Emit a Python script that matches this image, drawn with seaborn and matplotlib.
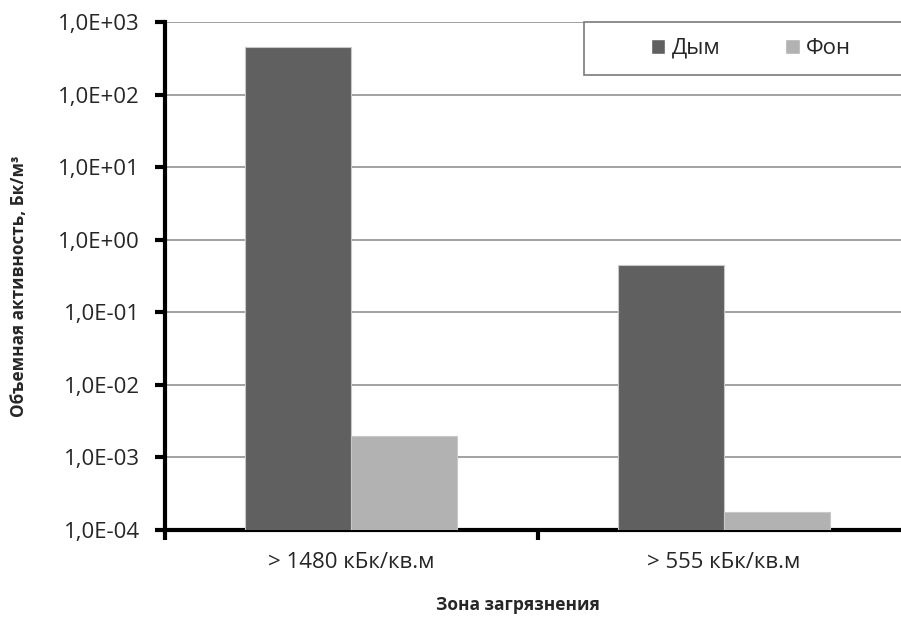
import numpy as np
import pandas as pd
import seaborn as sns
import matplotlib.pyplot as plt
from matplotlib.ticker import FuncFormatter, FixedLocator, NullLocator
from matplotlib.patches import Rectangle

zones = ['> 1480 кБк/кв.м', '> 555 кБк/кв.м']
series = ['Дым', 'Фон']
smoke = [455, 0.45]
background = [2.0e-3, 1.75e-4]
colors = ['#606060', '#b2b2b2']

df = pd.DataFrame({
    'zone': zones * 2,
    'series': [series[0]] * 2 + [series[1]] * 2,
    'value': smoke + background,
})

sns.set_style('white')
plt.rcParams['font.family'] = ['Open Sans', 'DejaVu Sans']

fig = plt.figure(figsize=(9.01, 6.21), dpi=100)
ax = fig.add_axes([165 / 901, 1 - 530 / 621, (910 - 165) / 901, (530 - 22) / 621])

sns.barplot(data=df, x='zone', y='value', hue='series', palette=colors,
            width=0.57, edgecolor='#c8c8c8', linewidth=0.8,
            saturation=1, legend=False, ax=ax, zorder=3)
ax.set_yscale('log')

ax.set_ylim(1e-4, 1e3)
ax.set_xlim(-0.5, 1.5)
ax.yaxis.set_major_locator(FixedLocator([10.0 ** k for k in range(-4, 4)]))
ax.yaxis.set_minor_locator(NullLocator())
ax.yaxis.set_major_formatter(FuncFormatter(lambda v, p: f'{v:.1E}'.replace('.', ',')))
ax.grid(axis='y', color='#878787', linewidth=1.1, zorder=0)
ax.set_axisbelow(True)

for s in ['top', 'right']:
    ax.spines[s].set_visible(False)
for s in ['left', 'bottom']:
    ax.spines[s].set_linewidth(3)
    ax.spines[s].set_color('black')

ax.tick_params(axis='y', which='major', direction='out', length=7, width=3,
               color='black', labelsize=16, pad=11, left=True)
ax.tick_params(axis='x', which='major', length=0, labelsize=16, pad=16)
ax.xaxis.set_minor_locator(FixedLocator([-0.5, 0.5, 1.5]))
ax.tick_params(axis='x', which='minor', direction='out', length=7, width=3,
               color='black', bottom=True)

ax.set_xlabel('Зона загрязнения', fontsize=12.5, fontweight='bold')
ax.xaxis.set_label_coords((518 - 165) / 745, -(596 - 530) / 508)
ax.set_ylabel('Объемная активность, Бк/м³', fontsize=12.3, fontweight='bold')
ax.yaxis.set_label_coords(-(165 - 28) / 745, 1 - (286 - 22) / 508)

# legend box
fig.patches.append(Rectangle((584 / 901, 1 - 75 / 621), 0.4, 53 / 621,
                             transform=fig.transFigure, facecolor='white',
                             edgecolor='#7a7a7a', linewidth=1.2, zorder=5))
handles = [Rectangle((0, 0), 1, 1, facecolor=c) for c in colors]
fig.legend(handles, series, loc='center', bbox_to_anchor=(751 / 901, 1 - 48.5 / 621),
           ncol=2, frameon=False, fontsize=16, handlelength=0.65, handleheight=0.65,
           handletextpad=0.3, columnspacing=2.9)

fig.savefig('out.png', dpi=100)
